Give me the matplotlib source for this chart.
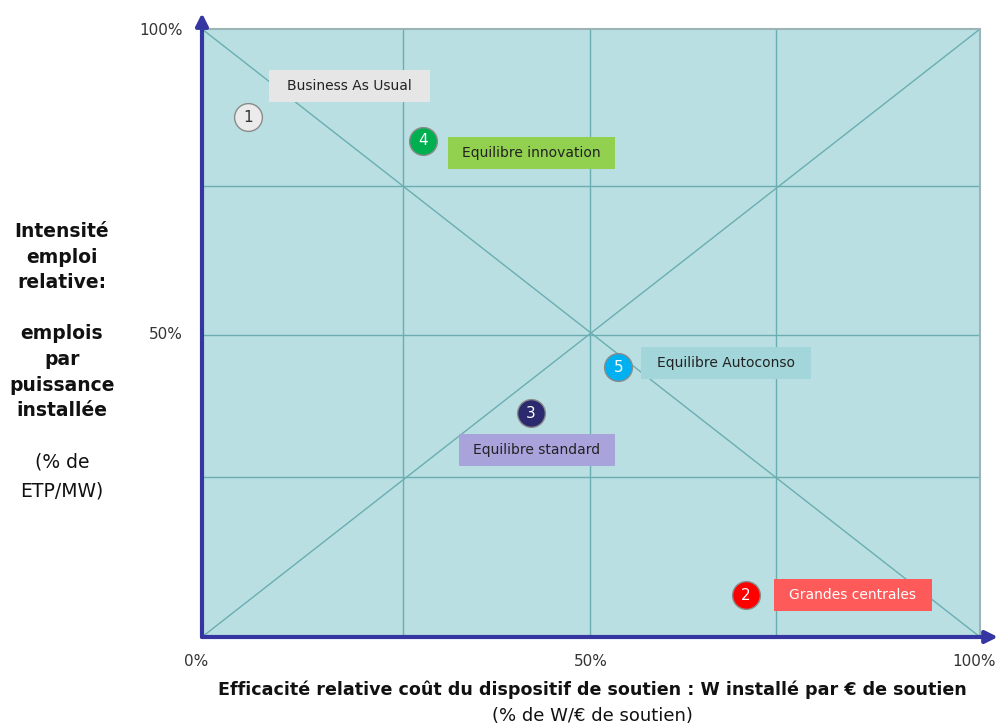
import matplotlib
matplotlib.use("Agg")
import matplotlib.pyplot as plt
from matplotlib.patches import Rectangle
from matplotlib.transforms import ScaledTranslation

# ---- data ----
scenario_ids = ["1", "2", "3", "4", "5"]
scenario_names = ["Business As Usual", "Grandes centrales", "Equilibre standard",
                  "Equilibre innovation", "Equilibre Autoconso"]
cost_efficiency = [0.059, 0.699, 0.423, 0.284, 0.535]   # x (fraction)
job_intensity = [0.855, 0.069, 0.368, 0.816, 0.444]     # y (fraction)
x_ticks = [0.0, 0.5, 1.0]
x_tick_labels = ["0%", "50%", "100%"]
y_ticks = [0.5, 1.0]
y_tick_labels = ["50%", "100%"]

# ---- styles ----
marker_face = ["#ebebeb", "#ff0000", "#2b2a6e", "#00b050", "#00b0f0"]
marker_text = ["#333333", "white", "white", "white", "white"]
box_face = ["#e6e6e6", "#ff5a5a", "#a9a3dc", "#92d050", "#a3d6da"]
box_text = ["#222222", "white", "#222222", "#222222", "#222222"]
# label boxes (x0, y0, w, h) in axes fraction
box_geom = [(0.086, 0.880, 0.207, 0.053),
            (0.735, 0.043, 0.203, 0.053),
            (0.330, 0.281, 0.201, 0.053),
            (0.316, 0.770, 0.215, 0.053),
            (0.564, 0.424, 0.219, 0.053)]
grid_x = [0.258, 0.499, 0.738]
grid_y = [0.263, 0.497, 0.742]
bg = "#b9dfe2"
grid_c = "#6aaeb1"
axis_c = "#3636a2"

fig = plt.figure(figsize=(9.98, 7.26), dpi=100)
ax = fig.add_axes([202/998, 89/726, 778/998, 608/726])
ax.set_xlim(0, 1)
ax.set_ylim(0, 1)
ax.set_facecolor(bg)

for s in ["left", "bottom"]:
    ax.spines[s].set_visible(False)
for s in ["top", "right"]:
    ax.spines[s].set_color("#9db4b6")
    ax.spines[s].set_linewidth(1.5)

for gx in grid_x:
    ax.axvline(gx, color=grid_c, lw=1, zorder=1)
for gy in grid_y:
    ax.axhline(gy, color=grid_c, lw=1, zorder=1)
ax.plot([0, 1], [0, 1], color=grid_c, lw=1, zorder=1)
ax.plot([0, 1], [1, 0], color=grid_c, lw=1, zorder=1)

# axis arrows
ax.annotate("", xy=(0, 1.026), xytext=(0, 0), xycoords="axes fraction",
            arrowprops=dict(arrowstyle="-|>", color=axis_c, lw=3, mutation_scale=18,
                            shrinkA=0, shrinkB=0), annotation_clip=False, zorder=5)
ax.annotate("", xy=(1.023, 0), xytext=(0, 0), xycoords="axes fraction",
            arrowprops=dict(arrowstyle="-|>", color=axis_c, lw=3, mutation_scale=18,
                            shrinkA=0, shrinkB=0), annotation_clip=False, zorder=5)

ax.set_xticks(x_ticks)
ax.set_xticklabels(x_tick_labels, fontsize=11, color="#333333")
ax.set_yticks(y_ticks)
ax.set_yticklabels(y_tick_labels, fontsize=11, color="#333333")
ax.tick_params(axis="both", length=0)
ax.tick_params(axis="x", pad=12)
ax.tick_params(axis="y", pad=14)
xl = ax.get_xticklabels()
xl[0].set_transform(xl[0].get_transform() + ScaledTranslation(-6/100, 0, fig.dpi_scale_trans))
xl[-1].set_transform(xl[-1].get_transform() + ScaledTranslation(-6/100, 0, fig.dpi_scale_trans))

for i in range(len(scenario_ids)):
    x0, y0, w, h = box_geom[i]
    ax.add_patch(Rectangle((x0, y0), w, h, facecolor=box_face[i], edgecolor="none", zorder=3))
    ax.text(x0 + w / 2, y0 + h / 2, scenario_names[i], ha="center", va="center",
            fontsize=10, color=box_text[i], zorder=4)
    ax.scatter(cost_efficiency[i], job_intensity[i], s=20**2, color=marker_face[i],
               edgecolors="#8a8a8a", linewidths=1, zorder=4)
    ax.text(cost_efficiency[i], job_intensity[i], scenario_ids[i], ha="center", va="center",
            fontsize=11, color=marker_text[i], zorder=5)

# y label block
fig.text(62/998, 1 - 222/726,
         "Intensité\nemploi\nrelative:\n\nemplois\npar\npuissance\ninstallée",
         ha="center", va="top", fontsize=13.5, fontweight="bold", linespacing=1.44,
         color="#111111", multialignment="center")
fig.text(62/998, 1 - 453/726, "(% de\nETP/MW)", ha="center", va="top",
         fontsize=13.5, linespacing=1.62, color="#111111", multialignment="center")

# x label
fig.text(592/998, 1 - 690/726,
         "Efficacité relative coût du dispositif de soutien : W installé par € de soutien",
         ha="center", va="center", fontsize=12.6, fontweight="bold", color="#111111")
fig.text(592/998, 1 - 716/726, "(% de W/€ de soutien)", ha="center", va="center",
         fontsize=13, color="#111111")

fig.savefig("out.png", dpi=100)
